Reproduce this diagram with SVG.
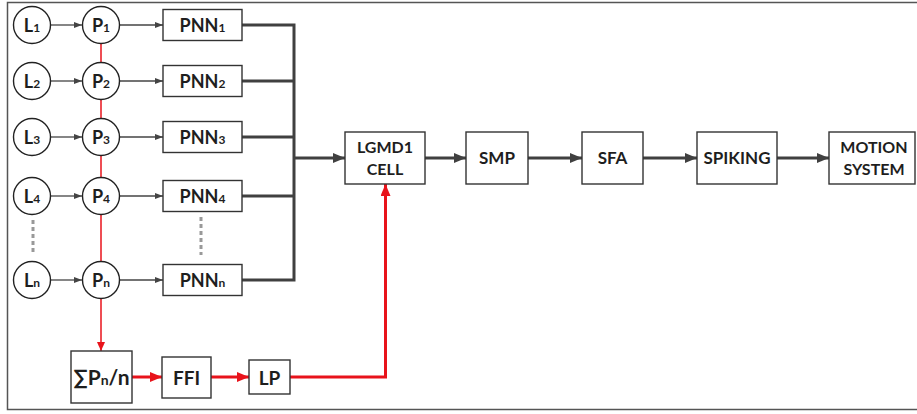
<svg xmlns="http://www.w3.org/2000/svg" width="917" height="414" viewBox="0 0 917 414">
<defs>
<style>
text{font-family:Lato,"Open Sans","Liberation Sans",sans-serif;font-weight:bold;fill:#1e1e1e;text-anchor:middle}
.c{fill:#fff;stroke:#222;stroke-width:1.4}
.b{fill:#fff;stroke:#333;stroke-width:1.4}
.thin{stroke:#444;stroke-width:1.3;fill:none}
.thick{stroke:#404040;stroke-width:3;fill:none}
.rthin{stroke:#e8131b;stroke-width:1.5;fill:none}
.rthick{stroke:#e8131b;stroke-width:3;fill:none}
.dot{stroke:#999;stroke-width:3;stroke-dasharray:4 3;fill:none}
.n{font-size:18px}
.s{font-size:12px}
</style>
<marker id="a" markerUnits="userSpaceOnUse" markerWidth="8" markerHeight="8" viewBox="0 0 8 8" refX="8" refY="4" orient="auto"><path d="M0,1 L8,4 L0,7 z" fill="#444"/></marker>
<marker id="A" markerUnits="userSpaceOnUse" markerWidth="12" markerHeight="10" viewBox="0 0 12 10" refX="12" refY="5" orient="auto"><path d="M0,0 L12,5 L0,10 z" fill="#404040"/></marker>
<marker id="r" markerUnits="userSpaceOnUse" markerWidth="9" markerHeight="9" viewBox="0 0 9 9" refX="9" refY="4.5" orient="auto"><path d="M0,0.5 L9,4.5 L0,8.5 z" fill="#e8131b"/></marker>
<marker id="R" markerUnits="userSpaceOnUse" markerWidth="12" markerHeight="10" viewBox="0 0 12 10" refX="12" refY="5" orient="auto"><path d="M0,0 L12,5 L0,10 z" fill="#e8131b"/></marker>
</defs>
<rect x="7.5" y="2.5" width="925" height="407" fill="#fff" stroke="#555" stroke-width="1.5"/>
<g id="connectors">
<line class="rthin" x1="101" y1="43" x2="101" y2="262"/>
<line class="rthin" x1="101" y1="299" x2="101" y2="351" marker-end="url(#r)"/>
<line class="thin" x1="51" y1="25" x2="82" y2="25" marker-end="url(#a)"/>
<line class="thin" x1="51" y1="81" x2="82" y2="81" marker-end="url(#a)"/>
<line class="thin" x1="51" y1="137" x2="82" y2="137" marker-end="url(#a)"/>
<line class="thin" x1="51" y1="196" x2="82" y2="196" marker-end="url(#a)"/>
<line class="thin" x1="51" y1="280" x2="82" y2="280" marker-end="url(#a)"/>
<line class="thin" x1="120" y1="25" x2="163" y2="25" marker-end="url(#a)"/>
<line class="thin" x1="120" y1="81" x2="163" y2="81" marker-end="url(#a)"/>
<line class="thin" x1="120" y1="137" x2="163" y2="137" marker-end="url(#a)"/>
<line class="thin" x1="120" y1="196" x2="163" y2="196" marker-end="url(#a)"/>
<line class="thin" x1="120" y1="280" x2="163" y2="280" marker-end="url(#a)"/>
<path class="thick" d="M242,25 H294 M242,81 H294 M242,137 H294 M242,196 H294 M242,280 H294 M294,23.5 V281.5"/>
<line class="thick" x1="294" y1="158" x2="345" y2="158" marker-end="url(#A)"/>
<line class="thick" x1="425" y1="158" x2="466" y2="158" marker-end="url(#A)"/>
<line class="thick" x1="528" y1="158" x2="582" y2="158" marker-end="url(#A)"/>
<line class="thick" x1="643" y1="158" x2="697" y2="158" marker-end="url(#A)"/>
<line class="thick" x1="777" y1="158" x2="829" y2="158" marker-end="url(#A)"/>
<line class="rthick" x1="132" y1="377" x2="162" y2="377" marker-end="url(#R)"/>
<line class="rthick" x1="211" y1="377" x2="249" y2="377" marker-end="url(#R)"/>
<path class="rthick" d="M290,377 H385.5 V184" marker-end="url(#R)"/>
<line class="dot" x1="33" y1="220" x2="33" y2="252"/>
<line class="dot" x1="201" y1="217" x2="201" y2="255"/>
</g>
<g id="L1"><circle class="c" cx="32" cy="25" r="18.5"/><text class="n" x="32" y="31.5">L<tspan class="s">1</tspan></text></g>
<g id="L2"><circle class="c" cx="32" cy="81" r="18.5"/><text class="n" x="32" y="87.5">L<tspan class="s">2</tspan></text></g>
<g id="L3"><circle class="c" cx="32" cy="137" r="18.5"/><text class="n" x="32" y="143.5">L<tspan class="s">3</tspan></text></g>
<g id="L4"><circle class="c" cx="32" cy="196" r="18.5"/><text class="n" x="32" y="202.5">L<tspan class="s">4</tspan></text></g>
<g id="Ln"><circle class="c" cx="32" cy="280" r="18.5"/><text class="n" x="32" y="286.5">L<tspan class="s">n</tspan></text></g>
<g id="P1"><circle class="c" cx="101" cy="25" r="18.5"/><text class="n" x="101" y="31.5">P<tspan class="s">1</tspan></text></g>
<g id="P2"><circle class="c" cx="101" cy="81" r="18.5"/><text class="n" x="101" y="87.5">P<tspan class="s">2</tspan></text></g>
<g id="P3"><circle class="c" cx="101" cy="137" r="18.5"/><text class="n" x="101" y="143.5">P<tspan class="s">3</tspan></text></g>
<g id="P4"><circle class="c" cx="101" cy="196" r="18.5"/><text class="n" x="101" y="202.5">P<tspan class="s">4</tspan></text></g>
<g id="Pn"><circle class="c" cx="101" cy="280" r="18.5"/><text class="n" x="101" y="286.5">P<tspan class="s">n</tspan></text></g>
<g id="PNN1"><rect class="b" x="163" y="9.5" width="79" height="31"/><text class="n" x="202.5" y="31.5">PNN<tspan class="s">1</tspan></text></g>
<g id="PNN2"><rect class="b" x="163" y="65.5" width="79" height="31"/><text class="n" x="202.5" y="87.5">PNN<tspan class="s">2</tspan></text></g>
<g id="PNN3"><rect class="b" x="163" y="121.5" width="79" height="31"/><text class="n" x="202.5" y="143.5">PNN<tspan class="s">3</tspan></text></g>
<g id="PNN4"><rect class="b" x="163" y="180.5" width="79" height="31"/><text class="n" x="202.5" y="202.5">PNN<tspan class="s">4</tspan></text></g>
<g id="PNNn"><rect class="b" x="163" y="264.5" width="79" height="31"/><text class="n" x="202.5" y="286.5">PNN<tspan class="s">n</tspan></text></g>
<g id="LGMD1"><rect class="b" x="345" y="132" width="80" height="52"/><text x="385" y="153" font-size="16">LGMD1</text><text x="385" y="175" font-size="16">CELL</text></g>
<g id="SMP"><rect class="b" x="466" y="132" width="62" height="52"/><text x="497" y="164" font-size="17">SMP</text></g>
<g id="SFA"><rect class="b" x="582" y="132" width="61" height="52"/><text x="612.5" y="164" font-size="17">SFA</text></g>
<g id="SPIKING"><rect class="b" x="697" y="132" width="80" height="52"/><text x="737" y="164" font-size="17">SPIKING</text></g>
<g id="MOTION"><rect class="b" x="829" y="132" width="86" height="52"/><text x="874" y="153" font-size="16">MOTION</text><text x="874" y="175" font-size="16">SYSTEM</text></g>
<g id="SUM"><rect class="b" x="71" y="351" width="61" height="52"/><text x="101.5" y="385" font-size="21">∑P<tspan font-size="14">n</tspan>/n</text></g>
<g id="FFI"><rect class="b" x="162" y="357" width="49" height="41"/><text x="186.5" y="384.5" font-size="19">FFI</text></g>
<g id="LP"><rect class="b" x="249" y="360" width="41" height="34"/><text x="269.5" y="384.5" font-size="19">LP</text></g>
</svg>
